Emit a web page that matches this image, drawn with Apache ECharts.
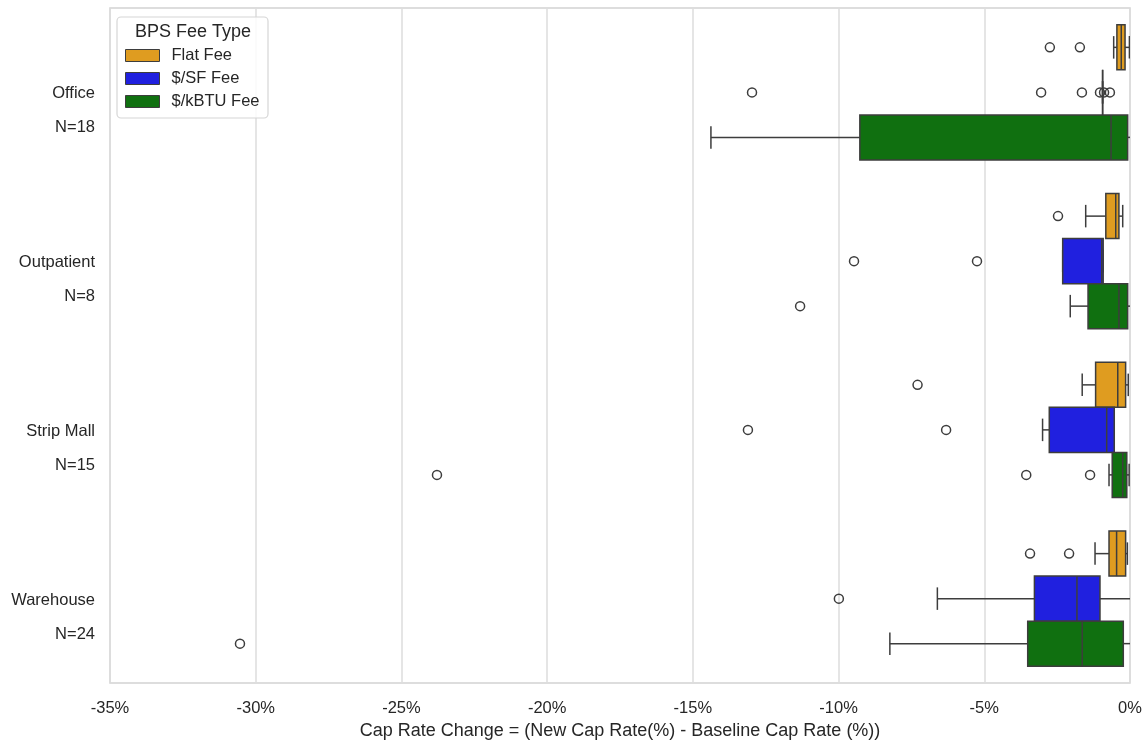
<!DOCTYPE html>
<html>
<head>
<meta charset="utf-8">
<script src="https://cdn.jsdelivr.net/npm/echarts@6/dist/echarts.min.js"></script>
<style>
  html, body { margin: 0; padding: 0; background: #fff; }
  #chart { width: 1148px; height: 745px; }
</style>
</head>
<body>
<div id="chart"></div>
<script>
// Building types and sample counts (top to bottom)
const categories = ['Office', 'Outpatient', 'Strip Mall', 'Warehouse'];
const counts = [18, 8, 15, 24];

// Fee types shown side by side inside each building band
const feeTypes = ['Flat Fee', '$/SF Fee', '$/kBTU Fee'];
const feeColors = ['#DF9C20', '#2020DF', '#107010'];

// Box statistics per building: [lower whisker, Q1, median, Q3, upper whisker] in %
const flatFeeStats = [
  [-0.56, -0.45, -0.30, -0.17, -0.02],
  [-1.52, -0.83, -0.49, -0.38, -0.25],
  [-1.64, -1.18, -0.42, -0.15, -0.06],
  [-1.20, -0.72, -0.46, -0.15, -0.09]
];
const sfFeeStats = [
  [-0.94, -0.94, -0.94, -0.94, -0.94],
  [-2.31, -2.31, -0.97, -0.92, -0.92],
  [-3.00, -2.77, -0.80, -0.54, -0.54],
  [-6.61, -3.28, -1.82, -1.03, 0.10]
];
const kbtuFeeStats = [
  [-14.38, -9.27, -0.65, -0.08, 0.10],
  [-2.05, -1.44, -0.38, -0.08, 0.10],
  [-0.72, -0.61, -0.25, -0.11, -0.03],
  [-8.24, -3.51, -1.64, -0.23, 0.10]
];

// Outliers: [building index, value in %]
const flatFeeOutliers = [[0, -2.75], [0, -1.72], [1, -2.47], [2, -7.29], [3, -3.43], [3, -2.09]];
const sfFeeOutliers = [
  [0, -12.97], [0, -3.05], [0, -1.65], [0, -1.03], [0, -0.89], [0, -0.69],
  [1, -9.47], [1, -5.25], [2, -13.11], [2, -6.31], [3, -9.99]
];
const kbtuFeeOutliers = [[1, -11.32], [2, -23.78], [2, -3.56], [2, -1.37], [3, -30.54]];

// X axis ticks (%)
const xMin = -35, xMax = 0, xStep = 5;

const EDGE = '#3d3d3d';
const BOX_SHARE = 0.2667; // share of a category band taken by one box

function boxRenderer(slot, fill) {
  return function (params, api) {
    const cat = api.value(0);
    const v = [api.value(1), api.value(2), api.value(3), api.value(4), api.value(5)];
    const band = api.size([0, 1])[1];
    const h = band * BOX_SHARE;
    const yc = api.coord([0, cat])[1] + (slot - 1) * h;
    const px = v.map(d => api.coord([d, cat])[0]);
    const line = { stroke: EDGE, lineWidth: 1.5 };
    const cap = h / 4;
    return {
      type: 'group',
      children: [
        { type: 'line', shape: { x1: px[0], y1: yc, x2: px[1], y2: yc }, style: line },
        { type: 'line', shape: { x1: px[3], y1: yc, x2: px[4], y2: yc }, style: line },
        { type: 'line', shape: { x1: px[0], y1: yc - cap, x2: px[0], y2: yc + cap }, style: line },
        { type: 'line', shape: { x1: px[4], y1: yc - cap, x2: px[4], y2: yc + cap }, style: line },
        { type: 'rect', shape: { x: px[1], y: yc - h / 2, width: px[3] - px[1], height: h },
          style: { fill: fill, stroke: EDGE, lineWidth: 1.5 } },
        { type: 'line', shape: { x1: px[2], y1: yc - h / 2, x2: px[2], y2: yc + h / 2 }, style: line }
      ]
    };
  };
}

function outlierRenderer(slot) {
  return function (params, api) {
    const cat = api.value(0);
    const band = api.size([0, 1])[1];
    const h = band * BOX_SHARE;
    const p = api.coord([api.value(1), cat]);
    return {
      type: 'circle',
      shape: { cx: p[0], cy: p[1] + (slot - 1) * h, r: 4.5 },
      style: { fill: 'none', stroke: EDGE, lineWidth: 1.5 }
    };
  };
}

const statSets = [flatFeeStats, sfFeeStats, kbtuFeeStats];
const outlierSets = [flatFeeOutliers, sfFeeOutliers, kbtuFeeOutliers];

const series = [];
feeTypes.forEach((name, i) => {
  series.push({
    name: name,
    type: 'custom',
    clip: true,
    color: feeColors[i],
    itemStyle: { color: feeColors[i] },
    renderItem: boxRenderer(i, feeColors[i]),
    encode: { x: [1, 2, 3, 4, 5], y: 0 },
    data: statSets[i].map((s, c) => [c].concat(s)),
    z: 3
  });
});
feeTypes.forEach((name, i) => {
  series.push({
    name: name + ' outliers',
    type: 'custom',
    clip: true,
    renderItem: outlierRenderer(i),
    encode: { x: 1, y: 0 },
    data: outlierSets[i],
    z: 4
  });
});

const FONT = '"Liberation Sans", Arial, sans-serif';

const chart = echarts.init(document.getElementById('chart'), null, { renderer: 'canvas' });
chart.setOption({
  animation: false,
  backgroundColor: '#fff',
  textStyle: { fontFamily: FONT },
  grid: {
    left: 110, right: 18, top: 8, bottom: 62,
    show: true, borderColor: '#d2d2d2', borderWidth: 1.5, backgroundColor: '#fff'
  },
  xAxis: {
    type: 'value',
    min: xMin, max: xMax, interval: xStep,
    name: 'Cap Rate Change = (New Cap Rate(%) - Baseline Cap Rate (%))',
    nameLocation: 'middle',
    nameGap: 36,
    nameTextStyle: { fontSize: 18, color: '#262626', fontFamily: FONT },
    axisLine: { show: false },
    axisTick: { show: false },
    axisLabel: {
      margin: 17, fontSize: 16.5, color: '#262626', fontFamily: FONT,
      formatter: v => v + '%'
    },
    splitLine: { show: true, lineStyle: { color: '#dcdcdc', width: 1.5 } }
  },
  yAxis: {
    type: 'category',
    inverse: true,
    data: categories,
    axisLine: { show: false },
    axisTick: { show: false },
    splitLine: { show: false },
    axisLabel: {
      margin: 15,
      padding: [37, 0, 0, 0],
      formatter: (v, idx) => '{n|' + v + '}\n{n|N=' + counts[idx] + '}',
      rich: {
        n: { fontSize: 16.5, lineHeight: 34, color: '#262626', fontFamily: FONT, align: 'right' }
      }
    }
  },
  legend: {
    orient: 'vertical',
    left: 125, top: 47, padding: 0,
    itemWidth: 34, itemHeight: 12, itemGap: 6,
    icon: 'rect',
    z: 6,
    textStyle: { fontSize: 16.5, lineHeight: 14, color: '#262626', fontFamily: FONT, padding: [0, 0, 0, 7] },
    data: feeTypes.map((n, i) => ({
      name: n,
      itemStyle: { color: feeColors[i], borderColor: EDGE, borderWidth: 1 }
    }))
  },
  graphic: [
    {
      type: 'rect', z: 5,
      shape: { x: 117, y: 17, width: 151, height: 101, r: 4 },
      style: { fill: 'rgba(255,255,255,0.85)', stroke: '#d6d6d6', lineWidth: 1.2 }
    },
    {
      type: 'text', z: 10,
      style: {
        x: 193, y: 32, text: 'BPS Fee Type', fill: '#262626',
        font: '18px ' + FONT, align: 'center', verticalAlign: 'middle'
      }
    }
  ],
  series: series
});
</script>
</body>
</html>
